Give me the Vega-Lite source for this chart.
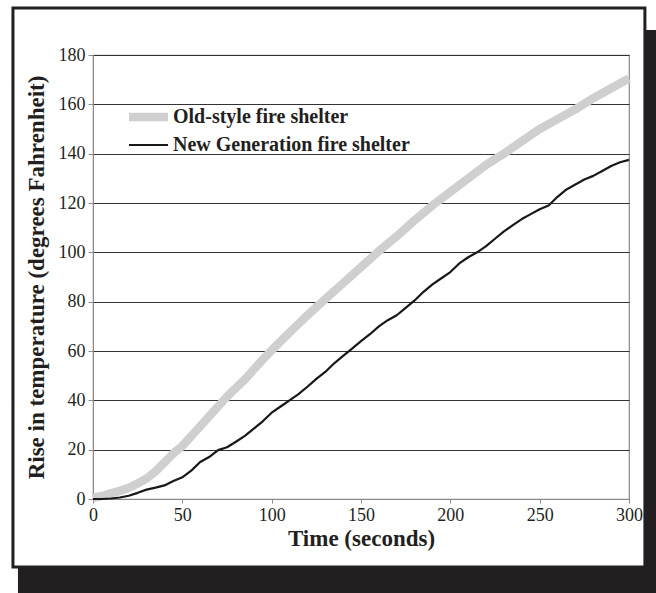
{
  "$schema": "https://vega.github.io/schema/vega-lite/v6.json",
  "autosize": {"type": "none"},
  "width": 536,
  "height": 444,
  "padding": {"left": 93, "top": 55, "right": 27, "bottom": 94},
  "background": "white",
  "config": {
    "font": "Liberation Serif",
    "view": {"stroke": "#8a8a8a", "strokeWidth": 1.2}
  },
  "datasets": {
    "frame": [{"part": "frame"}],
    "temps": [
      {"t": 0, "v": 0.5, "series": "Old-style fire shelter"},
      {"t": 5, "v": 1.2, "series": "Old-style fire shelter"},
      {"t": 10, "v": 2.3, "series": "Old-style fire shelter"},
      {"t": 15, "v": 3.3, "series": "Old-style fire shelter"},
      {"t": 20, "v": 4.5, "series": "Old-style fire shelter"},
      {"t": 25, "v": 6.3, "series": "Old-style fire shelter"},
      {"t": 30, "v": 8.3, "series": "Old-style fire shelter"},
      {"t": 35, "v": 11.2, "series": "Old-style fire shelter"},
      {"t": 40, "v": 14.8, "series": "Old-style fire shelter"},
      {"t": 45, "v": 18.5, "series": "Old-style fire shelter"},
      {"t": 50, "v": 21.5, "series": "Old-style fire shelter"},
      {"t": 55, "v": 25.5, "series": "Old-style fire shelter"},
      {"t": 60, "v": 29.5, "series": "Old-style fire shelter"},
      {"t": 65, "v": 33.5, "series": "Old-style fire shelter"},
      {"t": 70, "v": 37.5, "series": "Old-style fire shelter"},
      {"t": 75, "v": 41.5, "series": "Old-style fire shelter"},
      {"t": 80, "v": 45, "series": "Old-style fire shelter"},
      {"t": 85, "v": 48.5, "series": "Old-style fire shelter"},
      {"t": 90, "v": 52.5, "series": "Old-style fire shelter"},
      {"t": 95, "v": 56.5, "series": "Old-style fire shelter"},
      {"t": 100, "v": 60.3, "series": "Old-style fire shelter"},
      {"t": 110, "v": 67.5, "series": "Old-style fire shelter"},
      {"t": 120, "v": 74.5, "series": "Old-style fire shelter"},
      {"t": 130, "v": 81, "series": "Old-style fire shelter"},
      {"t": 140, "v": 87.5, "series": "Old-style fire shelter"},
      {"t": 150, "v": 94, "series": "Old-style fire shelter"},
      {"t": 160, "v": 100.5, "series": "Old-style fire shelter"},
      {"t": 170, "v": 106.5, "series": "Old-style fire shelter"},
      {"t": 180, "v": 113, "series": "Old-style fire shelter"},
      {"t": 190, "v": 119, "series": "Old-style fire shelter"},
      {"t": 200, "v": 124.5, "series": "Old-style fire shelter"},
      {"t": 210, "v": 130, "series": "Old-style fire shelter"},
      {"t": 220, "v": 135.5, "series": "Old-style fire shelter"},
      {"t": 230, "v": 140, "series": "Old-style fire shelter"},
      {"t": 240, "v": 145, "series": "Old-style fire shelter"},
      {"t": 250, "v": 150, "series": "Old-style fire shelter"},
      {"t": 260, "v": 154, "series": "Old-style fire shelter"},
      {"t": 270, "v": 158, "series": "Old-style fire shelter"},
      {"t": 280, "v": 162.5, "series": "Old-style fire shelter"},
      {"t": 290, "v": 166.5, "series": "Old-style fire shelter"},
      {"t": 300, "v": 170.5, "series": "Old-style fire shelter"},
      {"t": 0, "v": 0, "series": "New Generation fire shelter"},
      {"t": 5, "v": 0, "series": "New Generation fire shelter"},
      {"t": 10, "v": 0.2, "series": "New Generation fire shelter"},
      {"t": 15, "v": 0.6, "series": "New Generation fire shelter"},
      {"t": 20, "v": 1.3, "series": "New Generation fire shelter"},
      {"t": 25, "v": 2.5, "series": "New Generation fire shelter"},
      {"t": 30, "v": 3.8, "series": "New Generation fire shelter"},
      {"t": 35, "v": 4.6, "series": "New Generation fire shelter"},
      {"t": 40, "v": 5.5, "series": "New Generation fire shelter"},
      {"t": 45, "v": 7.3, "series": "New Generation fire shelter"},
      {"t": 50, "v": 8.8, "series": "New Generation fire shelter"},
      {"t": 55, "v": 11.5, "series": "New Generation fire shelter"},
      {"t": 60, "v": 15, "series": "New Generation fire shelter"},
      {"t": 65, "v": 17, "series": "New Generation fire shelter"},
      {"t": 70, "v": 19.8, "series": "New Generation fire shelter"},
      {"t": 75, "v": 21, "series": "New Generation fire shelter"},
      {"t": 80, "v": 23.2, "series": "New Generation fire shelter"},
      {"t": 85, "v": 25.6, "series": "New Generation fire shelter"},
      {"t": 90, "v": 28.5, "series": "New Generation fire shelter"},
      {"t": 95, "v": 31.5, "series": "New Generation fire shelter"},
      {"t": 100, "v": 35, "series": "New Generation fire shelter"},
      {"t": 105, "v": 37.5, "series": "New Generation fire shelter"},
      {"t": 110, "v": 40, "series": "New Generation fire shelter"},
      {"t": 115, "v": 42.5, "series": "New Generation fire shelter"},
      {"t": 120, "v": 45.5, "series": "New Generation fire shelter"},
      {"t": 125, "v": 48.7, "series": "New Generation fire shelter"},
      {"t": 130, "v": 51.5, "series": "New Generation fire shelter"},
      {"t": 135, "v": 55, "series": "New Generation fire shelter"},
      {"t": 140, "v": 58, "series": "New Generation fire shelter"},
      {"t": 145, "v": 61, "series": "New Generation fire shelter"},
      {"t": 150, "v": 64, "series": "New Generation fire shelter"},
      {"t": 155, "v": 66.8, "series": "New Generation fire shelter"},
      {"t": 160, "v": 70, "series": "New Generation fire shelter"},
      {"t": 165, "v": 72.5, "series": "New Generation fire shelter"},
      {"t": 170, "v": 74.5, "series": "New Generation fire shelter"},
      {"t": 175, "v": 77.5, "series": "New Generation fire shelter"},
      {"t": 180, "v": 80.5, "series": "New Generation fire shelter"},
      {"t": 185, "v": 84, "series": "New Generation fire shelter"},
      {"t": 190, "v": 87, "series": "New Generation fire shelter"},
      {"t": 195, "v": 89.5, "series": "New Generation fire shelter"},
      {"t": 200, "v": 92, "series": "New Generation fire shelter"},
      {"t": 205, "v": 95.5, "series": "New Generation fire shelter"},
      {"t": 210, "v": 98, "series": "New Generation fire shelter"},
      {"t": 215, "v": 100, "series": "New Generation fire shelter"},
      {"t": 220, "v": 102.5, "series": "New Generation fire shelter"},
      {"t": 225, "v": 105.5, "series": "New Generation fire shelter"},
      {"t": 230, "v": 108.5, "series": "New Generation fire shelter"},
      {"t": 235, "v": 111, "series": "New Generation fire shelter"},
      {"t": 240, "v": 113.5, "series": "New Generation fire shelter"},
      {"t": 245, "v": 115.5, "series": "New Generation fire shelter"},
      {"t": 250, "v": 117.5, "series": "New Generation fire shelter"},
      {"t": 255, "v": 119, "series": "New Generation fire shelter"},
      {"t": 260, "v": 122.5, "series": "New Generation fire shelter"},
      {"t": 265, "v": 125.5, "series": "New Generation fire shelter"},
      {"t": 270, "v": 127.5, "series": "New Generation fire shelter"},
      {"t": 275, "v": 129.5, "series": "New Generation fire shelter"},
      {"t": 280, "v": 131, "series": "New Generation fire shelter"},
      {"t": 285, "v": 133, "series": "New Generation fire shelter"},
      {"t": 290, "v": 135, "series": "New Generation fire shelter"},
      {"t": 295, "v": 136.5, "series": "New Generation fire shelter"},
      {"t": 300, "v": 137.5, "series": "New Generation fire shelter"}
    ]
  },
  "layer": [
    {
      "data": {"name": "frame"},
      "mark": {"type": "rect", "color": "#231f20", "clip": false},
      "encoding": {
        "x": {"datum": 308.95, "type": "quantitative", "scale": {"domain": [0, 300], "nice": false}},
        "x2": {"datum": 323},
        "y": {"datum": 190.1, "type": "quantitative", "scale": {"domain": [0, 180], "nice": false}},
        "y2": {"datum": -41}
      }
    },
    {
      "data": {"name": "frame"},
      "mark": {"type": "rect", "color": "#231f20", "clip": false},
      "encoding": {
        "x": {"datum": -42, "type": "quantitative"},
        "x2": {"datum": 323},
        "y": {"datum": -27.6, "type": "quantitative"},
        "y2": {"datum": -41}
      }
    },
    {
      "data": {"name": "frame"},
      "mark": {"type": "rect", "fill": "white", "fillOpacity": 0, "stroke": "#231f20", "strokeWidth": 3, "clip": false},
      "encoding": {
        "x": {"datum": -44.8, "type": "quantitative"},
        "x2": {"datum": 308.9},
        "y": {"datum": 199.1, "type": "quantitative"},
        "y2": {"datum": -27.6}
      }
    },
    {
      "data": {"name": "temps"},
      "mark": {"type": "line", "strokeJoin": "round", "strokeCap": "butt"},
      "encoding": {
        "x": {
          "field": "t", "type": "quantitative",
          "scale": {"domain": [0, 300], "nice": false},
          "axis": {
            "title": "Time (seconds)", "values": [0, 50, 100, 150, 200, 250, 300],
            "grid": false, "labelFontSize": 18, "labelColor": "#231f20",
            "labelPadding": 3, "tickSize": 4, "tickColor": "#8a8a8a", "domainColor": "#8a8a8a",
            "titleFontSize": 23, "titleFontWeight": "bold", "titleColor": "#231f20", "titlePadding": 3,
            "labelFlush": false
          }
        },
        "y": {
          "field": "v", "type": "quantitative",
          "scale": {"domain": [0, 180], "nice": false},
          "axis": {
            "title": "Rise in temperature (degrees Fahrenheit)",
            "values": [0, 20, 40, 60, 80, 100, 120, 140, 160, 180],
            "grid": true, "gridColor": "#333333", "gridWidth": 1,
            "labelFontSize": 18, "labelColor": "#231f20", "labelPadding": 3,
            "tickSize": 5, "tickColor": "#8a8a8a", "domainColor": "#8a8a8a",
            "titleFontSize": 23, "titleFontWeight": "bold", "titleColor": "#231f20", "titlePadding": 10,
            "labelFlush": false
          }
        },
        "color": {
          "field": "series", "type": "nominal",
          "scale": {"domain": ["Old-style fire shelter", "New Generation fire shelter"], "range": ["#cfcfcf", "#1a1718"]},
          "legend": {
            "title": null, "orient": "none", "legendX": 41.5, "legendY": 48,
            "labelFontSize": 20, "labelFontWeight": "bold", "labelColor": "#231f20", "labelLimit": 400,
            "symbolType": "M-2,0H2", "symbolSize": 380, "labelOffset": 10.5, "rowPadding": -5
          }
        },
        "strokeWidth": {
          "field": "series", "type": "nominal",
          "scale": {"domain": ["Old-style fire shelter", "New Generation fire shelter"], "range": [8.5, 2.2]},
          "legend": {
            "title": null, "orient": "none", "legendX": 41.5, "legendY": 48,
            "labelFontSize": 20, "labelFontWeight": "bold", "labelColor": "#231f20", "labelLimit": 400,
            "symbolType": "M-2,0H2", "symbolSize": 380, "labelOffset": 10.5, "rowPadding": -5
          }
        }
      }
    }
  ]
}
